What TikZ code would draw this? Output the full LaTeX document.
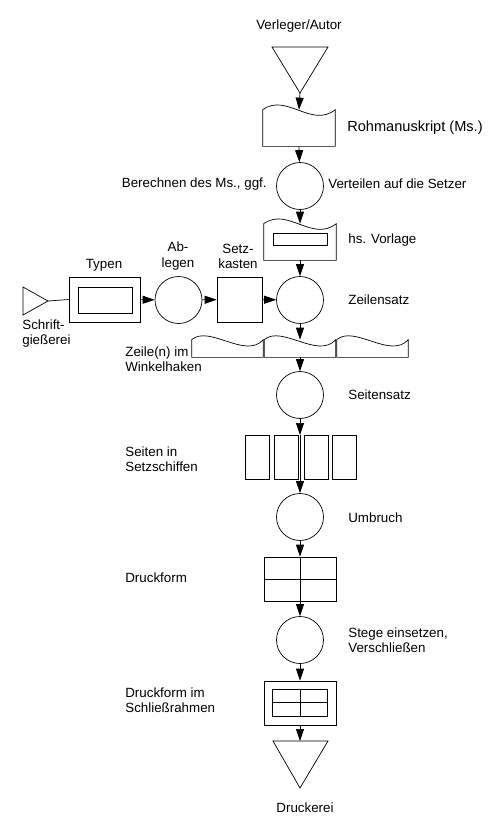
\documentclass[tikz,border=0pt]{standalone}
\usepackage{fontspec}
\setmainfont{Liberation Sans}
\usetikzlibrary{arrows.meta}
\usetikzlibrary{positioning}

\begin{document}
\begin{tikzpicture}[x=0.02cm, y=-0.02cm, thin,
    >={Triangle[length=2.4mm,width=1.6mm]},
    flow/.style={->},
    proc/.style={draw, circle, minimum size=0.94cm, inner sep=0pt},
    box/.style={draw, rectangle, inner sep=0pt},
    docbody/.style={rectangle, inner sep=0pt},
    lbl/.style={font=\fontsize{7.6}{8.6}\selectfont, align=left, inner sep=0pt}]

    \useasboundingbox (0,0) rectangle (500,833);

    % main column
    \node[lbl] (verleger) at (299,26) {Verleger/Autor};
    \coordinate (autor) at (300,93);
    \draw (272,47) -- (328,47) -- (autor) -- cycle;

    \node[docbody, minimum width=1.44cm, minimum height=0.72cm] (ms) at (299,128) {};
    \draw (ms.north west) .. controls +(24,-17) and +(-24,19) .. (ms.north east) -- (ms.south east) -- (ms.south west) -- cycle;
    \node[lbl, font=\fontsize{8.3}{9}\selectfont, anchor=west] (msl) at (347,128) {Rohmanuskript (Ms.)};

    \node[proc] (vert) at (300,186) {};
    \node[lbl, anchor=east] (berl) at (267,184) {Berechnen des Ms., ggf.};
    \node[lbl, anchor=west] (vertl) at (328,184) {Verteilen auf die Setzer};

    \node[docbody, minimum width=1.44cm, minimum height=0.72cm] (vorl) at (300,242) {};
    \draw (vorl.north west) .. controls +(24,-17) and +(-24,19) .. (vorl.north east) -- (vorl.south east) -- (vorl.south west) -- cycle;
    \node[box, minimum width=1.08cm, minimum height=0.24cm] (vorlin) at (300,239) {};
    \node[lbl, anchor=west] (vorll) at (348,240) {hs. Vorlage};

    \node[proc] (zsatz) at (300,300) {};
    \node[lbl, anchor=west] (zsatzl) at (348,300) {Zeilensatz};

    % side row
    \coordinate (giess) at (48,301);
    \draw (23,287) -- (giess) -- (23,315) -- cycle;
    \node[lbl, anchor=west] (giessl) at (22,333.5) {Schrift-\\gießerei};

    \node[box, minimum width=1.42cm, minimum height=0.9cm] (typen) at (104.5,299.5) {};
    \node[box, minimum width=1.08cm, minimum height=0.52cm] (typenin) at (105,300) {};
    \node[lbl] (typenl) at (104,265) {Typen};

    \node[proc] (ablegen) at (178.5,300) {};
    \node[lbl, align=center] (ablegenl) at (178,256) {Ab-\\legen};

    \node[box, minimum size=0.9cm] (kasten) at (239.5,299.5) {};
    \node[lbl, align=center] (kastenl) at (238,256) {Setz-\\kasten};

    % Winkelhaken
    \node[docbody, minimum width=1.42cm, minimum height=0.34cm] (zeile1) at (227.5,348.5) {};
    \node[docbody, minimum width=1.42cm, minimum height=0.34cm] (zeile2) at (300,348.5) {};
    \node[docbody, minimum width=1.42cm, minimum height=0.34cm] (zeile3) at (372.5,348.5) {};
    \foreach \z in {zeile1,zeile2,zeile3}
        \draw (\z.north west) .. controls +(18,-15) and +(-18,20) .. (\z.north east) -- (\z.south east) -- (\z.south west) -- cycle;
    \node[lbl, anchor=west] (zeilel) at (125,359.5) {Zeile(n) im\\Winkelhaken};

    \node[proc] (seitensatz) at (300,395) {};
    \node[lbl, anchor=west] (seitensatzl) at (348,395) {Seitensatz};

    \node[box, minimum width=0.48cm, minimum height=0.88cm] (seite1) at (257,457) {};
    \node[box, minimum width=0.48cm, minimum height=0.88cm] (seite2) at (286,457) {};
    \node[box, minimum width=0.48cm, minimum height=0.88cm] (seite3) at (316,457) {};
    \node[box, minimum width=0.48cm, minimum height=0.88cm] (seite4) at (344,457) {};
    \coordinate (schiff) at (300,435);
    \node[lbl, anchor=west] (schiffl) at (125,459.5) {Seiten in\\Setzschiffen};

    \node[proc] (umbruch) at (300,517) {};
    \node[lbl, anchor=west] (umbruchl) at (348,518) {Umbruch};

    \node[box, minimum width=1.44cm, minimum height=0.88cm] (dform) at (300,579) {};
    \draw (dform.west) -- (dform.east);
    \node[lbl, anchor=west] (dforml) at (125,578) {Druckform};

    \node[proc] (stege) at (300,640) {};
    \node[lbl, anchor=west] (stegel) at (348,640.5) {Stege einsetzen,\\Verschließen};

    \node[box, minimum width=1.44cm, minimum height=0.88cm] (rahmen) at (300,703) {};
    \node[box, minimum width=1.1cm, minimum height=0.54cm] (rahmenin) at (300,702.5) {};
    \draw (rahmenin.west) -- (rahmenin.east);
    \draw (rahmenin.north) -- (rahmenin.south);
    \node[lbl, anchor=west] (rahmenl) at (125,700.5) {Druckform im\\Schließrahmen};

    \coordinate (druck) at (300,741);
    \draw (druck) -- (273,741) -- (300,788) -- (328,741) -- cycle;
    \node[lbl] (druckl) at (305,808) {Druckerei};

    %\pause

    \draw[flow] (autor) -- (ms.north);
    \draw[flow] (ms.south) -- (vert);
    \draw[flow] (vert) -- (vorl.north);
    \draw[flow] (vorl.south) -- (zsatz);
    \draw (giess) -- (typen.west);
    \draw[flow] (typen) -- (ablegen);
    \draw[flow] (ablegen) -- (kasten);
    \draw[flow] (kasten) -- (zsatz);
    \draw[flow] (zsatz) -- (zeile2.north);
    \draw[flow] (zeile2.south) -- (seitensatz);
    \draw[flow] (seitensatz) -- (schiff);
    \draw[flow] (schiff) -- (umbruch);
    \draw[flow] (umbruch) -- (dform.north);
    \draw[flow] (dform.north) -- (stege);
    \draw[flow] (stege) -- (rahmen.north);
    \draw[flow] (rahmen.south) -- (druck);

\end{tikzpicture}
\end{document}
